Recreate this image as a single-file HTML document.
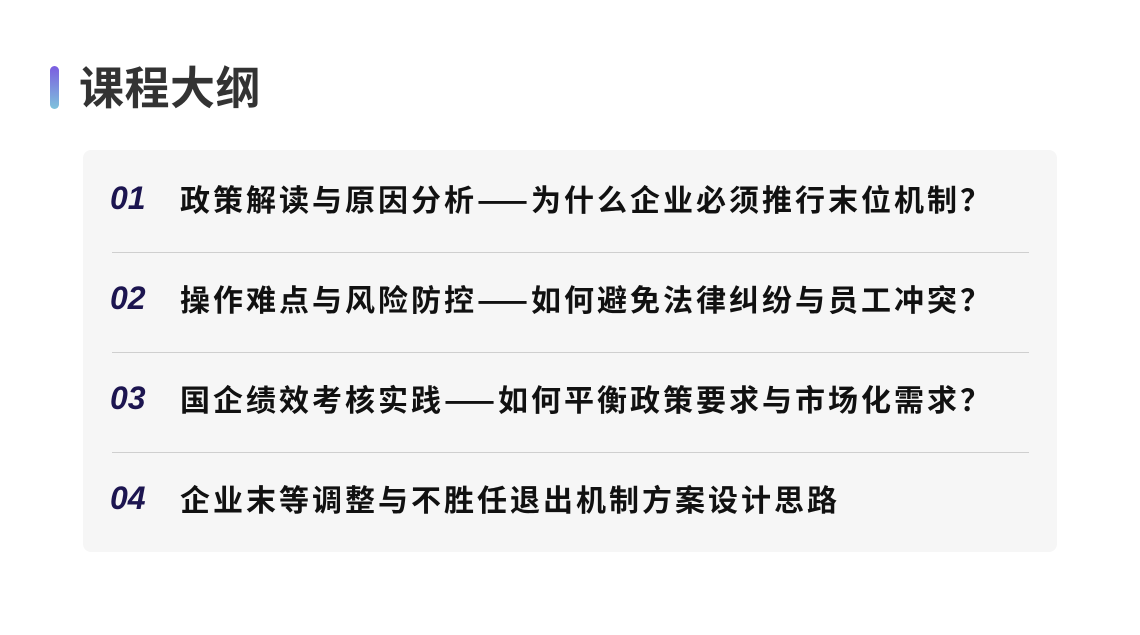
<!DOCTYPE html>
<html><head><meta charset="utf-8"><style>
body{margin:0;width:1140px;height:635px;background:#fff;position:relative;overflow:hidden;font-family:"Noto Sans CJK SC","Liberation Sans",sans-serif;}
.bar{position:absolute;left:50px;top:66px;width:9px;height:43px;border-radius:5px;background:linear-gradient(#7b5ce0,#7ec3dc);}
.title{position:absolute;left:79px;top:55px;font-size:45px;font-weight:bold;color:#333;line-height:60px;letter-spacing:0.5px;}
.panel{position:absolute;left:83px;top:150px;width:974px;height:402px;background:#f6f6f6;border-radius:8px;}
.row{position:absolute;left:0;height:40px;line-height:40px;white-space:nowrap;}
.num{position:absolute;left:27px;font-family:"Liberation Sans",sans-serif;font-size:32px;font-style:italic;font-weight:bold;color:#1c1550;}
.txt{position:absolute;left:97px;font-size:30px;font-weight:bold;color:#111;letter-spacing:3px;}
.div{position:absolute;left:29px;width:917px;height:1px;background:#cfcfcf;}
</style></head><body>
<div class="bar"></div>
<div class="title">课程大纲</div>
<div class="panel">
<div class="row" style="top:28px"><span class="num">01</span><span class="txt">政策解读与原因分析——为什么企业必须推行末位机制？</span></div>
<div class="div" style="top:102px"></div>
<div class="row" style="top:128px"><span class="num">02</span><span class="txt">操作难点与风险防控——如何避免法律纠纷与员工冲突？</span></div>
<div class="div" style="top:202px"></div>
<div class="row" style="top:228px"><span class="num">03</span><span class="txt">国企绩效考核实践——如何平衡政策要求与市场化需求？</span></div>
<div class="div" style="top:302px"></div>
<div class="row" style="top:328px"><span class="num">04</span><span class="txt">企业末等调整与不胜任退出机制方案设计思路</span></div>
</div>
</body></html>
